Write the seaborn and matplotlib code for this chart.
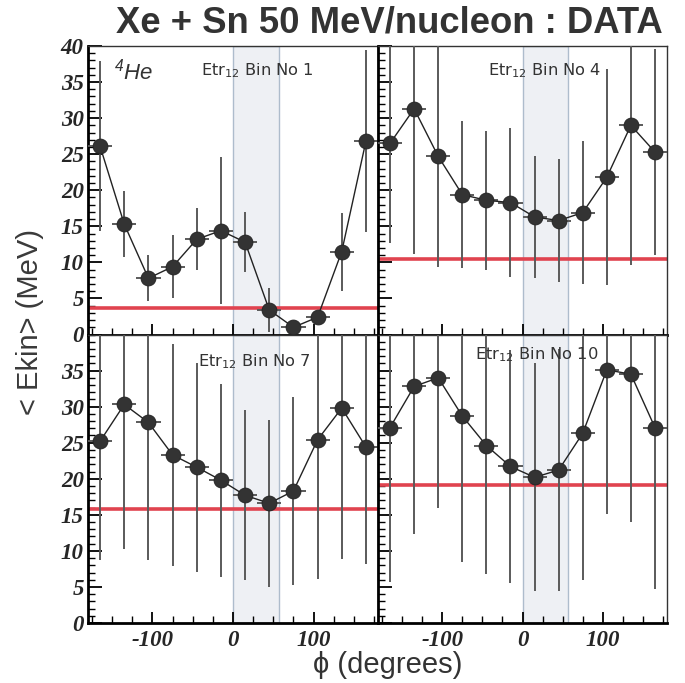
import matplotlib
matplotlib.use("Agg")
import matplotlib.pyplot as plt
import seaborn as sns
import numpy as np
import pandas as pd
from matplotlib.ticker import MultipleLocator

# ---------------- data ----------------
phi_centers = [-165, -135, -105, -75, -45, -15, 15, 45, 75, 105, 135, 165]
phi_halfwidth = 15

bin_labels = ["1", "4", "7", "10"]

ekin_bin1 = [26.1, 15.3, 7.8, 9.4, 13.2, 14.4, 12.8, 3.4, 1.0, 2.4, 11.5, 26.8]
err_bin1 = [11.8, 4.6, 3.2, 4.4, 4.3, 10.2, 4.2, 3.1, 0.4, 0.8, 5.4, 12.6]
ref_bin1 = 3.7

ekin_bin4 = [26.5, 31.3, 24.7, 19.4, 18.6, 18.3, 16.3, 15.8, 16.9, 21.8, 29.0, 25.3]
err_bin4 = [13.8, 20.2, 15.3, 10.2, 9.6, 10.3, 8.4, 8.5, 9.9, 15.0, 19.4, 14.3]
ref_bin4 = 10.4

ekin_bin7 = [25.2, 30.3, 27.8, 23.3, 21.6, 19.8, 17.7, 16.6, 18.3, 25.4, 29.8, 24.4]
err_bin7 = [16.4, 20.0, 19.1, 15.4, 14.5, 13.4, 11.8, 11.6, 13.0, 19.3, 20.9, 16.2]
ref_bin7 = 15.8

ekin_bin10 = [27.1, 32.8, 34.0, 28.7, 24.6, 21.7, 20.2, 21.2, 26.3, 35.1, 34.5, 27.1]
err_bin10 = [21.4, 20.4, 18.1, 20.3, 17.8, 16.2, 15.8, 16.8, 20.4, 20.0, 20.5, 22.4]
ref_bin10 = 19.1

band_lo, band_hi = 0, 57

series = [
    (ekin_bin1, err_bin1, ref_bin1),
    (ekin_bin4, err_bin4, ref_bin4),
    (ekin_bin7, err_bin7, ref_bin7),
    (ekin_bin10, err_bin10, ref_bin10),
]

# ---------------- style ----------------
sns.set_theme(style="ticks")
plt.rcParams["font.family"] = ["Liberation Sans", "DejaVu Sans"]
plt.rcParams["mathtext.default"] = "regular"

fig = plt.figure(figsize=(6.85, 6.83), dpi=100)
L, M, R = 88 / 685, 378 / 685, 667 / 685
T, MID, B = 1 - 46 / 683, 1 - 334.5 / 683, 1 - 623 / 683
positions = [
    (L, MID, M - L, T - MID),
    (M, MID, R - M, T - MID),
    (L, B, M - L, MID - B),
    (M, B, R - M, MID - B),
]
label_pos = [(0.39, 0.915), (0.38, 0.915), (0.38, 0.905), (0.335, 0.93)]

tick_font = dict(family="Liberation Serif", weight="bold", style="italic", size=16.5)

for i, (pos, (vals, errs, ref), lab) in enumerate(zip(positions, series, bin_labels)):
    ax = fig.add_axes(pos)
    df = pd.DataFrame({"phi": phi_centers, "ekin": vals, "err": errs})
    ax.axvspan(band_lo, band_hi, facecolor="#eef0f4", edgecolor="#aebccc", lw=1.0, zorder=0)
    ax.axhline(ref, color="#e0434f", lw=2.6, zorder=2)
    ax.errorbar(df["phi"], df["ekin"], yerr=df["err"], xerr=phi_halfwidth,
                fmt="none", ecolor="#5a5a5a", elinewidth=1.4, capsize=0, zorder=3)
    sns.lineplot(data=df, x="phi", y="ekin", ax=ax, color="#222222", lw=1.0,
                 zorder=4, sort=False)
    sns.scatterplot(data=df, x="phi", y="ekin", ax=ax, color="#333333", s=115,
                    edgecolor="#222222", linewidth=0.6, zorder=5)
    ax.set_xlim(-180, 180)
    ax.set_ylim(0, 40)
    ax.set_xlabel("")
    ax.set_ylabel("")
    ax.xaxis.set_major_locator(MultipleLocator(100))
    ax.xaxis.set_minor_locator(MultipleLocator(25))
    ax.yaxis.set_major_locator(MultipleLocator(5))
    ax.yaxis.set_minor_locator(MultipleLocator(1))
    ax.tick_params(axis="both", which="major", direction="in", length=10, width=1.3,
                   color="black", top=False, right=False)
    ax.tick_params(axis="both", which="minor", direction="in", length=5, width=1.0,
                   color="black", top=False, right=False)
    ax.tick_params(axis="x", which="major", length=8)
    ax.tick_params(axis="x", which="minor", length=5)
    for s in ["left", "bottom"]:
        ax.spines[s].set_linewidth(2.0)
        ax.spines[s].set_color("black")
    for s in ["top", "right"]:
        ax.spines[s].set_linewidth(1.0)
        ax.spines[s].set_color("#333333")
    ax.grid(False)

    if i in (0, 2):
        ticks = list(range(0, 41, 5)) if i == 0 else list(range(0, 36, 5))
        ax.set_yticks(ticks)
        ax.set_yticklabels([str(t) for t in ticks], fontdict=tick_font)
        ax.yaxis.set_minor_locator(MultipleLocator(1))
        ax.tick_params(axis="y", which="major", pad=3)
    else:
        ax.set_yticklabels([])
    if i in (2, 3):
        xt = [-100, 0, 100]
        ax.set_xticks(xt)
        ax.set_xticklabels([str(t) for t in xt], fontdict=tick_font)
        ax.xaxis.set_minor_locator(MultipleLocator(25))
        ax.tick_params(axis="x", which="major", pad=5)
    else:
        ax.set_xticklabels([])

    ax.text(label_pos[i][0], label_pos[i][1], "Etr$_{12}$ Bin No " + lab,
            transform=ax.transAxes, ha="left", va="center",
            fontsize=11.7, color="#333333", family=["DejaVu Sans"], zorder=6)
    if i == 0:
        ax.text(0.09, 0.91, "$^{4}$He", transform=ax.transAxes, ha="left", va="center",
                fontsize=16, color="#333333", style="italic")

fig.text(0.569, 0.967, "Xe + Sn 50 MeV/nucleon : DATA", ha="center", va="center",
         fontsize=26.3, fontweight="bold", color="#333333")
fig.text(0.044, 0.529, "< Ekin> (MeV)", rotation=90, ha="center", va="center",
         fontsize=21, color="#3a3a3a")
fig.text(0.566, 0.026, "ϕ (degrees)", ha="center", va="center",
         fontsize=21, color="#333333")

fig.savefig("out.png", dpi=100)
